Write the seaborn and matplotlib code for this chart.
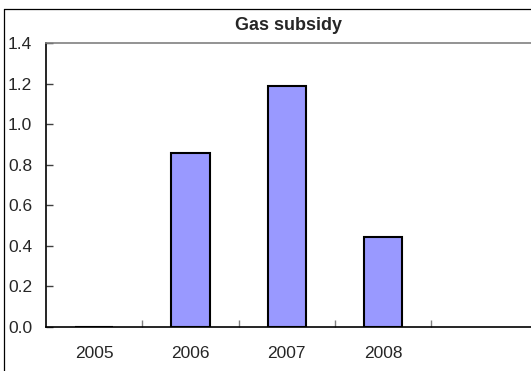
import matplotlib
matplotlib.use("Agg")
import matplotlib.pyplot as plt
from matplotlib.lines import Line2D
from matplotlib.ticker import FixedLocator
import seaborn as sns
import pandas as pd

years = ["2005", "2006", "2007", "2008"]
subsidy = [0.0, 0.857, 1.19, 0.445]
y_ticks = [0.0, 0.2, 0.4, 0.6, 0.8, 1.0, 1.2, 1.4]

sns.set_style("white")
plt.rcParams["font.family"] = ["Liberation Sans", "DejaVu Sans"]

W, H = 531, 371
fig = plt.figure(figsize=(W / 100, H / 100), dpi=100)
ax = fig.add_axes([46 / W, 44 / H, 485 / W, 284 / H])

df = pd.DataFrame({"year": years, "value": subsidy})
sns.barplot(data=df, x="year", y="value", ax=ax, color="#9999FF",
            saturation=1, width=0.4, edgecolor="black", linewidth=1.5)

ax.set_xlim(-0.5, 4.536)
ax.set_ylim(0, 1.4)
ax.set_yticks(y_ticks)
ax.set_yticklabels([f"{v:.1f}" for v in y_ticks])
ax.set_xlabel("")
ax.set_ylabel("")

# category separators as small inward ticks
ax.xaxis.set_minor_locator(FixedLocator([0.5, 1.5, 2.5, 3.5]))
ax.tick_params(axis="x", which="major", length=0, pad=14, labelsize=12.5)
ax.tick_params(axis="x", which="minor", direction="in", length=5,
               width=1, color="#808080", bottom=True)
ax.tick_params(axis="y", which="major", direction="in", length=5,
               width=1, color="#404040", left=True, pad=10, labelsize=12.5)

for side in ("left", "bottom"):
    ax.spines[side].set_color("black")
    ax.spines[side].set_linewidth(1.2)
ax.spines["top"].set_color("#808080")
ax.spines["top"].set_linewidth(1.2)
ax.spines["right"].set_visible(False)

ax.set_title("Gas subsidy", fontsize=13, fontweight="bold", pad=9)

# outer chart frame
fx = 3.5 / W
fy = 1 - 8.5 / H
fig.add_artist(Line2D([fx, fx], [0, fy], color="black", lw=0.9))
fig.add_artist(Line2D([fx, 1], [fy, fy], color="black", lw=0.9))

fig.savefig("out.png", dpi=100)
